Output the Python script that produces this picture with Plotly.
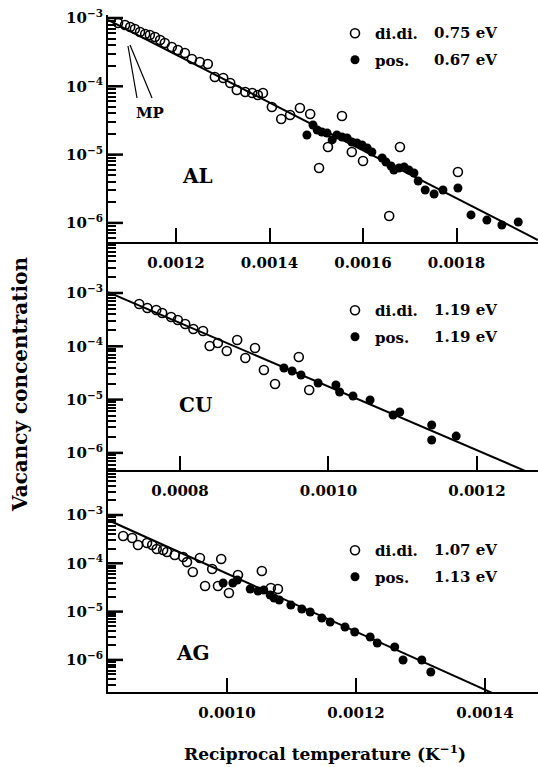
import math
import plotly.graph_objects as go

# ---------------- DATA ----------------
# AL panel
al_didi_x = [0.001076, 0.001091, 0.001102, 0.001112, 0.001123, 0.001134, 0.001144, 0.001155,
             0.001166, 0.001176, 0.001191, 0.001204, 0.001219, 0.001234, 0.001251, 0.001268,
             0.001283, 0.001301, 0.001316, 0.001330, 0.001348, 0.001363, 0.001375, 0.001386,
             0.001405, 0.001425, 0.001444, 0.001465, 0.001487, 0.001555, 0.001525, 0.001576,
             0.001600, 0.001506, 0.001679, 0.001656, 0.001803]
al_didi_y = [8.45e-4, 7.9e-4, 7.4e-4, 6.9e-4, 6.24e-4, 5.83e-4, 5.64e-4, 5.27e-4,
             4.77e-4, 4.31e-4, 3.76e-4, 3.40e-4, 3.07e-4, 2.51e-4, 2.27e-4, 2.12e-4,
             1.37e-4, 1.32e-4, 1.12e-4, 8.83e-5, 8.26e-5, 7.98e-5, 7.46e-5, 7.98e-5,
             4.98e-5, 3.32e-5, 3.80e-5, 4.81e-5, 3.93e-5, 3.67e-5, 1.29e-5, 1.09e-5,
             8.05e-6, 6.37e-6, 1.29e-5, 1.26e-6, 5.56e-6]
al_pos_x = [0.001480, 0.001493, 0.001502, 0.001512, 0.001523, 0.001534, 0.001544, 0.001555,
            0.001566, 0.001576, 0.001587, 0.001598, 0.001609, 0.001619, 0.001641, 0.001649,
            0.001660, 0.001666, 0.001677, 0.001688, 0.001698, 0.001709, 0.001718, 0.001733,
            0.001752, 0.001771, 0.001803, 0.001831, 0.001865, 0.001897, 0.001932]
al_pos_y = [1.94e-5, 2.71e-5, 2.29e-5, 2.14e-5, 2.07e-5, 1.64e-5, 1.94e-5, 1.81e-5,
            1.75e-5, 1.53e-5, 1.48e-5, 1.38e-5, 1.25e-5, 1.09e-5, 8.91e-6, 7.80e-6,
            6.81e-6, 5.95e-6, 6.37e-6, 6.58e-6, 5.95e-6, 5.38e-6, 4.11e-6, 3.03e-6,
            2.65e-6, 3.03e-6, 3.24e-6, 1.31e-6, 1.10e-6, 9.31e-7, 1.03e-6]
al_fit_x = [0.0010545, 0.0019743]
al_fit_y = [9.35e-4, 5.62e-7]

# CU panel
cu_didi_x = [0.000745, 0.000756, 0.000768, 0.000776, 0.000788, 0.000797, 0.000807, 0.000818,
             0.000831, 0.000840, 0.000851, 0.000863, 0.000877, 0.000888, 0.000901, 0.000913,
             0.000928, 0.000960, 0.000974]
cu_didi_y = [6.22e-4, 5.24e-4, 4.80e-4, 4.22e-4, 3.55e-4, 3.11e-4, 2.62e-4, 2.11e-4,
             1.94e-4, 1.01e-4, 1.15e-4, 8.17e-5, 1.31e-4, 6.03e-5, 9.29e-5, 3.59e-5,
             1.96e-5, 6.30e-5, 1.51e-5]
cu_pos_x = [0.000940, 0.000951, 0.000963, 0.000986, 0.001010, 0.001015, 0.001033, 0.001056,
            0.001087, 0.001096, 0.001139, 0.001139, 0.001172]
cu_pos_y = [3.92e-5, 3.44e-5, 2.90e-5, 2.05e-5, 1.88e-5, 1.39e-5, 1.17e-5, 9.82e-6,
            5.14e-6, 5.85e-6, 3.34e-6, 1.75e-6, 2.07e-6]
cu_fit_x = [0.000703, 0.0012822]
cu_fit_y = [1.04e-3, 3.62e-7]

# AG panel
ag_didi_x = [0.000839, 0.000853, 0.000862, 0.000876, 0.000884, 0.000891, 0.000901, 0.000907,
             0.000919, 0.000932, 0.000938, 0.000947, 0.000958, 0.000977, 0.000991, 0.000966,
             0.000986, 0.001003, 0.001017, 0.001054, 0.001068, 0.001079]
ag_didi_y = [3.67e-4, 3.34e-4, 2.39e-4, 2.63e-4, 2.39e-4, 1.98e-4, 1.88e-4, 1.71e-4,
             1.49e-4, 1.35e-4, 1.06e-4, 6.61e-5, 1.29e-4, 7.62e-5, 1.23e-4, 3.39e-5,
             3.39e-5, 2.43e-5, 5.73e-5, 6.93e-5, 3.08e-5, 2.94e-5]
ag_pos_x = [0.000994, 0.001009, 0.001016, 0.001036, 0.001048, 0.001057, 0.001067, 0.001073,
            0.001081, 0.001099, 0.001116, 0.001129, 0.001147, 0.001160, 0.001183, 0.001198,
            0.001222, 0.001233, 0.001260, 0.001273, 0.001302, 0.001316]
ag_pos_y = [3.91e-5, 3.91e-5, 4.51e-5, 2.94e-5, 2.67e-5, 2.80e-5, 2.21e-5, 1.91e-5,
            1.74e-5, 1.37e-5, 1.13e-5, 9.82e-6, 7.38e-6, 6.10e-6, 4.80e-6, 3.78e-6,
            2.98e-6, 2.24e-6, 1.85e-6, 9.95e-7, 9.95e-7, 5.61e-7]
ag_fit_x = [0.0008155, 0.0014822]
ag_fit_y = [7.87e-4, 7.73e-8]

panel_names = ["AL", "CU", "AG"]
didi_energy = ["0.75 eV", "1.19 eV", "1.07 eV"]
pos_energy = ["0.67 eV", "1.19 eV", "1.13 eV"]
al_xticks = [0.0012, 0.0014, 0.0016, 0.0018]
cu_xticks = [0.0008, 0.0010, 0.0012]
ag_xticks = [0.0010, 0.0012, 0.0014]
y_major = [1e-3, 1e-4, 1e-5, 1e-6]
y_major_text = ["10<sup>−3</sup>", "10<sup>−4</sup>", "10<sup>−5</sup>", "10<sup>−6</sup>"]

# ---------------- STYLE / LAYOUT ----------------
FONT = "DejaVu Serif"
W, H = 538, 767
ML, MR, MT, MB = 108, 0, 15, 75
PH = H - MT - MB
PW = W - ML - MR

def py2paper(py):
    return (H - MB - py) / PH

def px2paper(px):
    return (px - ML) / PW

panels = [
    dict(didi=(al_didi_x, al_didi_y), pos=(al_pos_x, al_pos_y), fit=(al_fit_x, al_fit_y),
         xticks=al_xticks, xrange=[0.0010545, 0.0019743], yrange=[-6.2796, -2.956],
         dom=[py2paper(242), 1.0], leg_top=py2paper(17), rows=(33, 60), label=(197, 176)),
    dict(didi=(cu_didi_x, cu_didi_y), pos=(cu_pos_x, cu_pos_y), fit=(cu_fit_x, cu_fit_y),
         xticks=cu_xticks, xrange=[0.000703, 0.0012822], yrange=[-6.3208, -2.0432],
         dom=[py2paper(470), py2paper(242)], leg_top=py2paper(294), rows=(310, 337), label=(195, 405)),
    dict(didi=(ag_didi_x, ag_didi_y), pos=(ag_pos_x, ag_pos_y), fit=(ag_fit_x, ag_fit_y),
         xticks=ag_xticks, xrange=[0.0008155, 0.0014822], yrange=[-6.6646, -2.0683],
         dom=[0.0, py2paper(470)], leg_top=py2paper(534), rows=(550, 577), label=(193, 653)),
]

# y ticks: decades labelled, 2..9 multiples unlabelled
all_tickvals, all_ticktext = [], []
for e in range(-9, 0):
    for m in range(1, 10):
        v = m * 10.0 ** e
        all_tickvals.append(v)
        if m == 1 and e in (-3, -4, -5, -6):
            all_ticktext.append(y_major_text[[-3, -4, -5, -6].index(e)])
        else:
            all_ticktext.append(" ")

fig = go.Figure()
layout = dict(
    width=W, height=H,
    margin=dict(l=ML, r=MR, t=MT, b=MB),
    paper_bgcolor="white", plot_bgcolor="white",
    font=dict(family=FONT, color="black", size=15),
    showlegend=True,
    annotations=[], shapes=[],
)

for i, p in enumerate(panels):
    n = "" if i == 0 else str(i + 1)
    xa, ya = "x" + n, "y" + n
    legname = "legend" + n
    fig.add_trace(go.Scatter(x=p["fit"][0], y=p["fit"][1], mode="lines",
                             line=dict(color="black", width=2), showlegend=False,
                             xaxis=xa, yaxis=ya, hoverinfo="skip"))
    fig.add_trace(go.Scatter(x=p["didi"][0], y=p["didi"][1], mode="markers", name="di.di.",
                             marker=dict(symbol="circle-open", size=9, color="black",
                                         line=dict(width=1.6, color="black")),
                             xaxis=xa, yaxis=ya, legend=legname, legendgroup="d" + n))
    fig.add_trace(go.Scatter(x=p["pos"][0], y=p["pos"][1], mode="markers", name="pos.",
                             marker=dict(symbol="circle", size=9, color="black"),
                             xaxis=xa, yaxis=ya, legend=legname, legendgroup="p" + n))

    layout["xaxis" + n] = dict(
        domain=[0, 1], anchor=ya, range=p["xrange"], showgrid=False, zeroline=False,
        showline=True, linecolor="black", linewidth=2,
        ticks="inside", ticklen=14, tickwidth=1.8, tickcolor="black",
        tickvals=p["xticks"], ticktext=["%.4f" % v for v in p["xticks"]],
        tickfont=dict(family=FONT, size=15, weight="bold"), ticklabelstandoff=6,
    )
    layout["yaxis" + n] = dict(
        domain=p["dom"], anchor=xa, type="log", range=p["yrange"], showgrid=False,
        zeroline=False, showline=True, linecolor="black", linewidth=2,
        ticks="inside", ticklen=8, tickwidth=2, tickcolor="black",
        tickmode="array", tickvals=all_tickvals, ticktext=all_ticktext,
        tickfont=dict(family=FONT, size=15, weight="bold"),
    )
    # longer decade ticks, placed through the axis range mapping
    d0, d1 = p["dom"]
    r0, r1 = p["yrange"]
    for v in y_major:
        yp = d0 + (math.log10(v) - r0) / (r1 - r0) * (d1 - d0)
        layout["shapes"].append(dict(type="line", xref="paper", yref="paper",
                                     x0=0, x1=15 / PW, y0=yp, y1=yp,
                                     line=dict(color="black", width=2.5)))
    layout[legname] = dict(
        x=px2paper(335), y=p["leg_top"], xanchor="left", yanchor="top",
        bgcolor="rgba(0,0,0,0)", borderwidth=0, tracegroupgap=4, traceorder="grouped",
        font=dict(family=FONT, size=15, weight="bold", color="black"),
    )
    for row_py, txt in zip(p["rows"], [didi_energy[i], pos_energy[i]]):
        layout["annotations"].append(dict(
            xref="paper", yref="paper", x=px2paper(432), y=py2paper(row_py),
            xanchor="left", yanchor="middle", showarrow=False, text=txt,
            font=dict(family=FONT, size=15, weight="bold")))
    layout["annotations"].append(dict(
        xref="paper", yref="paper", x=px2paper(p["label"][0]), y=py2paper(p["label"][1]),
        xanchor="center", yanchor="middle", showarrow=False, text=panel_names[i],
        font=dict(family=FONT, size=20, weight="bold")))

# MP label with its two pointer lines
layout["annotations"].append(dict(
    xref="paper", yref="paper", x=px2paper(150), y=py2paper(113), xanchor="center",
    yanchor="middle", showarrow=False, text="MP", font=dict(family=FONT, size=15, weight="bold")))
for (x0, y0, x1, y1) in [(137, 98, 128, 46), (152, 98, 130, 45)]:
    layout["shapes"].append(dict(type="line", xref="paper", yref="paper",
                                 x0=px2paper(x0), y0=py2paper(y0), x1=px2paper(x1), y1=py2paper(y1),
                                 line=dict(color="black", width=1.2)))

# axis titles
layout["annotations"].append(dict(
    xref="paper", yref="paper", x=px2paper(20), y=py2paper(385), xanchor="center",
    yanchor="middle", textangle=-90, showarrow=False, text="Vacancy concentration",
    font=dict(family=FONT, size=20, weight="bold")))
layout["annotations"].append(dict(
    xref="paper", yref="paper", x=px2paper(325), y=py2paper(753), xanchor="center",
    yanchor="middle", showarrow=False, text="Reciprocal temperature (K<sup>−1</sup>)",
    font=dict(family=FONT, size=17, weight="bold")))

fig.update_layout(**layout)
fig.write_html("out.html", config={"displayModeBar": False},
               post_script="document.body.style.margin='0';")
